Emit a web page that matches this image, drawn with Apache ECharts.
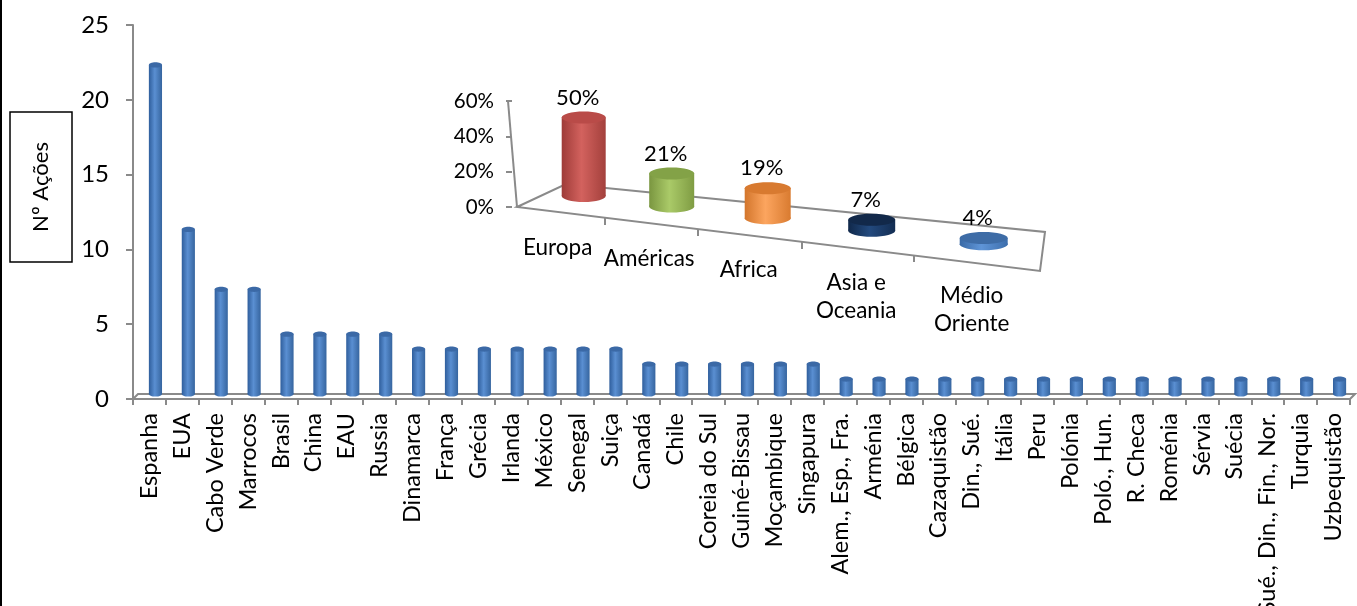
<!DOCTYPE html>
<html><head><meta charset="utf-8">
<script src="https://cdn.jsdelivr.net/npm/echarts@6/dist/echarts.min.js"></script>
<style>html,body{margin:0;padding:0;background:#fff}#c{width:1357px;height:606px}</style>
</head><body><div id="c"></div>
<script>
// ---------- data ----------
const countries = ['Espanha','EUA','Cabo Verde','Marrocos','Brasil','China','EAU','Russia','Dinamarca','França','Grécia','Irlanda','México','Senegal','Suiça','Canadá','Chile','Coreia do Sul','Guiné-Bissau','Moçambique','Singapura','Alem., Esp., Fra.','Arménia','Bélgica','Cazaquistão','Din., Sué.','Itália','Peru','Polónia','Poló., Hun.','R. Checa','Roménia','Sérvia','Suécia','Sué., Din., Fin., Nor.','Turquia','Uzbequistão'];
const actions = [22,11,7,7,4,4,4,4,3,3,3,3,3,3,3,2,2,2,2,2,2,1,1,1,1,1,1,1,1,1,1,1,1,1,1,1,1];
const countTicks = [0,5,10,15,20,25];
const regions = ['Europa','Américas','Africa','Asia e\nOceania','Médio\nOriente'];
const regionShares = [0.50,0.21,0.19,0.07,0.04];
const shareTicks = [0,0.2,0.4,0.6];
const axisTitle = 'Nº Ações';

// ---------- styles ----------
const FONT = 'Lato';
const AX = '#8a8a8a';
const regionColors = [
  {l:'#9e3b38', m:'#d3625e', r:'#a3403c', top:'#b94b48'},
  {l:'#7a9640', m:'#aaca68', r:'#7f9c43', top:'#83a247'},
  {l:'#d3762c', m:'#fca55f', r:'#d97b30', top:'#d87a30'},
  {l:'#10284a', m:'#234a7e', r:'#132d52', top:'#12294a'},
  {l:'#3a6aa6', m:'#5f95d8', r:'#3d6eac', top:'#3e6ca6'}
];
function grad(c){return {type:'linear',x:0,y:0,x2:1,y2:0,colorStops:[{offset:0,color:c.l},{offset:0.45,color:c.m},{offset:1,color:c.r}]};}
function txt(o){
  const s = Object.assign({fill:'#000',textFill:'#000',fontFamily:FONT,fontSize:22}, o);
  if (s.align) s.textAlign = s.align;
  if (s.verticalAlign) s.textVerticalAlign = s.verticalAlign;
  if (s.lineHeight) s.textLineHeight = s.lineHeight;
  return s;
}

const chart = echarts.init(document.getElementById('c'));

const mainBarColor = {l:'#2f5e9c', m:'#5a8fd2', r:'#36659f', top:'#3b69a6'};

const option = {
  animation:false,
  backgroundColor:'#fff',
  grid:[
    {left:133, top:25, right:7, bottom:207, containLabel:false, outerBoundsMode:'none'},
    {left:526, top:101, width:497, height:106, containLabel:false, outerBoundsMode:'none'}
  ],
  xAxis:[
    {type:'category', gridIndex:0, data:countries, boundaryGap:true,
     axisLine:{lineStyle:{color:AX,width:2}},
     axisTick:{show:true,length:6,lineStyle:{color:AX,width:2},alignWithLabel:false},
     axisLabel:{rotate:90,interval:0,margin:14,fontFamily:FONT,fontSize:23.5,color:'#000',hideOverlap:false},
     splitLine:{show:false}},
    {type:'category', gridIndex:1, data:regions, show:false}
  ],
  yAxis:[
    {type:'value', gridIndex:0, min:countTicks[0], max:countTicks[countTicks.length-1], interval:countTicks[1]-countTicks[0],
     axisLine:{show:true,lineStyle:{color:AX,width:2}},
     axisTick:{show:true,length:7,lineStyle:{color:AX,width:2}},
     axisLabel:{margin:24,fontFamily:FONT,fontSize:24,color:'#000'},
     splitLine:{show:false}},
    {type:'value', gridIndex:1, min:shareTicks[0], max:shareTicks[shareTicks.length-1], interval:shareTicks[1]-shareTicks[0], offset:14,
     axisLine:{show:false},
     axisTick:{show:true,length:6,lineStyle:{color:AX,width:2}},
     axisLabel:{margin:18,fontFamily:FONT,fontSize:20.5,color:'#000',formatter:v=>Math.round(v*100)+'%'},
     splitLine:{show:false}},
    {type:'value', gridIndex:1, min:0, max:0.675, show:false}
  ],
  graphic:[
    {type:'line', z:100, shape:{x1:1,y1:0,x2:1,y2:606}, style:{stroke:'#000',lineWidth:2}},
    {type:'polyline', z:0, shape:{points:[[133,399],[138,394],[1355,394],[1350,399]]}, style:{stroke:AX,lineWidth:2,fill:null}},
    {type:'rect', shape:{x:10,y:112,width:62,height:150}, style:{fill:'#fff',stroke:'#000',lineWidth:1.5}},
    {type:'text', x:41, y:187, rotation:Math.PI/2, style:txt({text:axisTitle,fontSize:22,align:'center',verticalAlign:'middle'})},
    {type:'line', z:0, shape:{x1:508,y1:101,x2:517,y2:207}, style:{stroke:AX,lineWidth:2}},
    {type:'polygon', z:0, shape:{points:[[517,207],[566,184],[1045,232],[1040,271]]}, style:{stroke:AX,lineWidth:2,fill:'#fff'}},
    {type:'line', z:0, shape:{x1:605,y1:218,x2:605,y2:225}, style:{stroke:AX,lineWidth:2}},
    {type:'line', z:0, shape:{x1:698,y1:229,x2:698,y2:236}, style:{stroke:AX,lineWidth:2}},
    {type:'line', z:0, shape:{x1:802,y1:242,x2:802,y2:249}, style:{stroke:AX,lineWidth:2}},
    {type:'line', z:0, shape:{x1:914,y1:255,x2:914,y2:262}, style:{stroke:AX,lineWidth:2}}
  ],
  series:[
    {type:'custom', xAxisIndex:0, yAxisIndex:0, z:5,
     data: actions.map((v,i)=>[i,v]),
     renderItem:function(params, api){
       const i = api.value(0), v = api.value(1);
       const p = api.coord([i,v]), p0 = api.coord([i,0]);
       const band = api.size([1,0])[0];
       const w = band*0.40, ry = 2.6;
       const cx = p0[0]+6, by = p0[1]-5, ty = p[1]-5;
       const g = grad(mainBarColor);
       return {type:'group', children:[
         {type:'ellipse', shape:{cx:cx,cy:by,rx:w/2,ry:ry}, style:{fill:g}},
         {type:'rect', shape:{x:cx-w/2,y:ty,width:w,height:by-ty}, style:{fill:g}},
         {type:'ellipse', shape:{cx:cx,cy:ty,rx:w/2,ry:ry}, style:{fill:mainBarColor.top}}
       ]};
     }},
    {type:'custom', xAxisIndex:1, yAxisIndex:2, z:5,
     data: regionShares.map((v,i)=>[i,v]),
     renderItem:function(params, api){
       const i = api.value(0), v = api.value(1);
       const p = api.coord([i,v]), p0 = api.coord([i,0]);
       const band = api.size([1,0])[0];
       const u = (p0[0]-params.coordSys.x)/band - 0.5;
       const cx = p0[0] + 8 - 15.4*u + 4*u*u;      // perspective spread
       const by = p0[1] - 11 + (cx-584)*0.1206;     // floor recedes
       const h = p0[1]-p[1];
       const ty = by - h;
       const w = 44 + u, ry = 6;
       const c = regionColors[i % regionColors.length];
       const g = grad(c);
       return {type:'group', children:[
         {type:'ellipse', shape:{cx:cx,cy:by,rx:w/2,ry:ry}, style:{fill:g}},
         {type:'rect', shape:{x:cx-w/2,y:ty,width:w,height:by-ty}, style:{fill:g}},
         {type:'ellipse', shape:{cx:cx,cy:ty,rx:w/2,ry:ry}, style:{fill:c.top}},
         {type:'text', x:cx-6, y:ty-ry-3, style:txt({text:Math.round(v*100)+'%',fontSize:22,align:'center',verticalAlign:'bottom'})},
         {type:'text', x:cx-26+3.5*u, y:by+38, style:txt({text:regions[i],fontSize:22.5,lineHeight:28,align:'center',verticalAlign:'top'})}
       ]};
     }}
  ]
};
chart.setOption(option);
</script>
</body></html>
